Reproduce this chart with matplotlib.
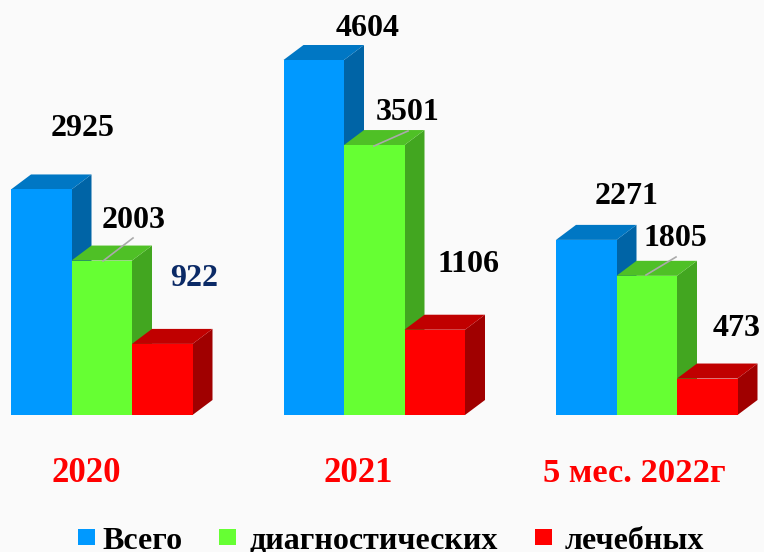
import matplotlib
matplotlib.use("Agg")
import matplotlib.pyplot as plt
from matplotlib.patches import Rectangle

plt.rcParams["font.family"] = ["Liberation Serif", "DejaVu Serif"]

# -----------------------
# DATA
# -----------------------
periods = ["2020", "2021", "5 мес. 2022г"]
series_names = ["Всего", "диагностических", "лечебных"]
total = [2925, 4604, 2271]
diagnostic = [2003, 3501, 1805]
treatment = [922, 1106, 473]

# -----------------------
# STYLE / LAYOUT (pixels of the 764x552 canvas)
# -----------------------
W, H = 764, 552
BASE_Y = 415
PX_PER_UNIT = 355 / 4604
BAR_W = 60.5
DEPTH_X, DEPTH_Y = 20, 15
GROUP_LEFT = [11, 283.5, 556]
BG = "#fafafa"
FRONT = ["#0099ff", "#66ff33", "#ff0000"]
TOP = ["#0077c4", "#4fc026", "#c00000"]
SIDE = ["#0064a6", "#42a620", "#a00000"]

LABEL_POS = [
    [(83, 129), (134, 221), (194, 279)],
    [(368, 28), (408, 112), (468, 264)],
    [(627, 197), (675, 239), (737, 329)],
]
LABEL_COL = [
    ["black", "black", "#0b2a66"],
    ["black", "black", "black"],
    ["black", "black", "black"],
]
LEADERS = [(0, (103, 261), (133, 238)), (1, (374, 146), (408, 131)), (2, (646, 275), (676, 257))]
PERIOD_POS = [(86, 473, 25), (358, 473, 25), (634, 474, 24.8)]
LEGEND_SQ = [78, 219, 535]
LEGEND_TXT = [102, 249, 565]


def fig_xy(x, y):
    return x / W, 1 - y / H


fig = plt.figure(figsize=(W / 100, H / 100), dpi=100, facecolor=BG)
ax = fig.add_axes([0, 0, 1, 1])
ax.set_xlim(0, W)
ax.set_ylim(-(H - BASE_Y) / PX_PER_UNIT, BASE_Y / PX_PER_UNIT)
ax.axis("off")

dy = DEPTH_Y / PX_PER_UNIT
series = [total, diagnostic, treatment]

# left bar first, each next front covers the side of the one before
for g, left in enumerate(GROUP_LEFT):
    for s, vals in enumerate(series):
        x0 = left + s * BAR_W
        x1 = x0 + BAR_W
        v = vals[g]
        ax.fill([x1, x1 + DEPTH_X, x1 + DEPTH_X, x1], [0, dy, v + dy, v], color=SIDE[s], lw=0, zorder=2 + s * 2)
        ax.fill([x0, x0 + DEPTH_X, x1 + DEPTH_X, x1], [v, v + dy, v + dy, v], color=TOP[s], lw=0, zorder=2 + s * 2)
        ax.fill([x0, x1, x1, x0], [0, 0, v, v], color=FRONT[s], lw=0, zorder=3 + s * 2)
        lx, ly = LABEL_POS[g][s]
        fx, fy = fig_xy(lx, ly)
        fig.text(fx, fy, str(v), color=LABEL_COL[g][s], fontsize=23, fontweight="bold", ha="center", va="center")

for g, p0, p1 in LEADERS:
    x0, y0 = fig_xy(*p0)
    x1, y1 = fig_xy(*p1)
    fig.add_artist(plt.Line2D([x0, x1], [y0, y1], color="#aaaaaa", lw=1.2, zorder=20))

for name, (x, y, size) in zip(periods, PERIOD_POS):
    fx, fy = fig_xy(x, y)
    fig.text(fx, fy, name, color="#ff0000", fontsize=size, fontweight="bold", ha="center", va="center")

# legend is laid out by hand, it sits right on the bottom edge in the original
for name, col, sx, tx in zip(series_names, FRONT, LEGEND_SQ, LEGEND_TXT):
    fx, fy = fig_xy(sx, 545)
    fig.add_artist(Rectangle((fx, fy), 16.5 / W, 16 / H, transform=fig.transFigure, color=col, lw=0))
    fx, fy = fig_xy(tx, 549)
    fig.text(fx, fy, name, color="black", fontsize=23, fontweight="bold", ha="left", va="baseline")

fig.savefig("out.png", dpi=100, facecolor=BG)
plt.close(fig)
